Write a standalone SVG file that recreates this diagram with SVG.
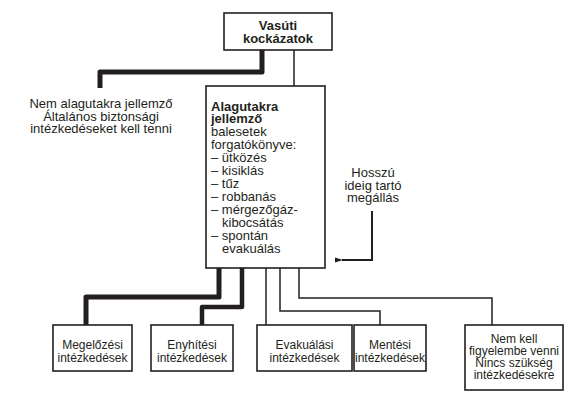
<svg xmlns="http://www.w3.org/2000/svg" width="581" height="401" viewBox="0 0 581 401">
<style>
.box{fill:#fff;stroke:#231f20;stroke-width:1.6}
.t{font-family:"Liberation Sans",Arial,sans-serif;font-size:12px;fill:#231f20}
.c{text-anchor:middle}
.b{font-weight:bold;font-size:13px}
.m{font-size:13px}
.thin{fill:none;stroke:#231f20;stroke-width:1.5}
.thick{fill:none;stroke:#231f20;stroke-width:5;stroke-linejoin:round}
.mid{fill:none;stroke:#231f20;stroke-width:4.5;stroke-linejoin:round}
</style>
<defs>
<marker id="ah" markerWidth="8" markerHeight="6" refX="1" refY="3" orient="auto" markerUnits="userSpaceOnUse">
<path d="M8,0.5 L0,3 L8,5.5 Z" fill="#231f20"/>
</marker>
</defs>
<rect width="581" height="401" fill="#fff"/>
<g id="connectors">
<path class="thick" d="M262,50 V72 H100 V88"/>
<path class="thin" d="M294,50 V86"/>
<path class="thick" d="M219,267 V297 H86 V325"/>
<path class="mid" d="M242,267 V307 H202 V325"/>
<path class="thin" d="M266,267 V325"/>
<path class="thin" d="M280,267 V311 H380 V325"/>
<path class="thin" d="M299,267 V298 H492 V325"/>
<path fill="none" stroke="#231f20" stroke-width="2" d="M372,211 V260 H342" marker-end="url(#ah)"/>
</g>
<g id="vasuti">
<rect class="box" x="224" y="13" width="108" height="37"/>
<text class="t b c" x="278" y="30">Vasúti</text>
<text class="t b c" x="278" y="43">kockázatok</text>
</g>
<g id="nem-alagut">
<text class="t m c" x="101" y="108">Nem alagutakra jellemző</text>
<text class="t m c" x="101" y="120.5">Általános biztonsági</text>
<text class="t m c" x="101" y="133">intézkedéseket kell tenni</text>
</g>
<g id="alagut">
<rect class="box" x="206" y="86" width="119" height="182"/>
<text class="t b" x="211" y="110.5">Alagutakra</text>
<text class="t b" x="211" y="123">jellemző</text>
<text class="t m" x="211" y="136">balesetek</text>
<text class="t m" x="211" y="149">forgatókönyve:</text>
<text class="t m" x="211" y="162">– ütközés</text>
<text class="t m" x="211" y="175">– kisiklás</text>
<text class="t m" x="211" y="188">– tűz</text>
<text class="t m" x="211" y="201">– robbanás</text>
<text class="t m" x="211" y="214">– mérgezőgáz-</text>
<text class="t m" x="222" y="227">kibocsátás</text>
<text class="t m" x="211" y="240">– spontán</text>
<text class="t m" x="222" y="253">evakuálás</text>
</g>
<g id="hosszu">
<text class="t m c" x="373" y="177">Hosszú</text>
<text class="t m c" x="373" y="189.5">ideig tartó</text>
<text class="t m c" x="373" y="202">megállás</text>
</g>
<g id="megelozesi">
<rect class="box" x="53" y="325" width="79" height="46"/>
<text class="t c" x="92.5" y="348.5">Megelőzési</text>
<text class="t c" x="92.5" y="361.5">intézkedések</text>
</g>
<g id="enyhitesi">
<rect class="box" x="151" y="325" width="82" height="46"/>
<text class="t c" x="192" y="348.5">Enyhítési</text>
<text class="t c" x="192" y="361.5">intézkedések</text>
</g>
<g id="evakualasi">
<rect class="box" x="257" y="325" width="95" height="46"/>
<text class="t c" x="304.5" y="348.5">Evakuálási</text>
<text class="t c" x="304.5" y="361.5">intézkedések</text>
</g>
<g id="mentesi">
<rect class="box" x="354" y="325" width="72" height="46"/>
<text class="t c" x="390" y="348.5">Mentési</text>
<text class="t c" x="390" y="361.5">intézkedések</text>
</g>
<g id="nem-kell">
<rect class="box" x="465" y="325" width="98" height="65"/>
<text class="t c" x="514" y="343">Nem kell</text>
<text class="t c" x="514" y="355">figyelembe venni</text>
<text class="t c" x="514" y="367">Nincs szükség</text>
<text class="t c" x="514" y="379">intézkedésekre</text>
</g>
</svg>
